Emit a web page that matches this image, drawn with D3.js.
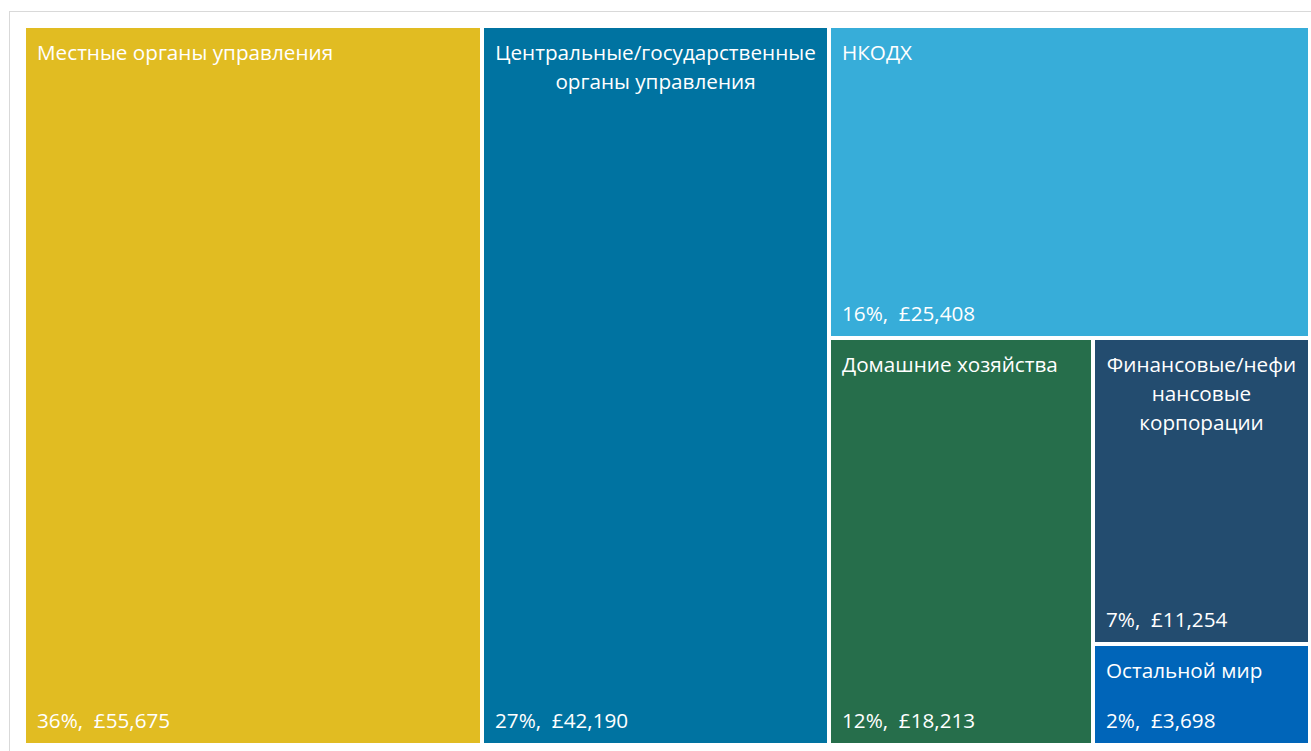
<!DOCTYPE html>
<html>
<head>
<meta charset="utf-8">
<script src="https://cdn.jsdelivr.net/npm/d3@7"></script>
<style>
	body { margin: 0; background: #fff; }
	text { font-family: "Open Sans", sans-serif; fill: #fff; white-space: pre; }
</style>
</head>
<body>
<div id="chart"></div>
<script>

//----------------------------
// Data
//----------------------------

var sectors = ["Местные органы управления", "Центральные/государственные органы управления", "НКОДХ",
	"Домашние хозяйства", "Финансовые/нефинансовые корпорации", "Остальной мир"];
// how the labels wrap in the original
var sectorLines = [["Местные органы управления"], ["Центральные/государственные", "органы управления"], ["НКОДХ"],
	["Домашние хозяйства"], ["Финансовые/нефи", "нансовые", "корпорации"], ["Остальной мир"]];
var amounts = [55675, 42190, 25408, 18213, 11254, 3698];
var colours = ["#E1BC22", "#0073A1", "#37ADD9", "#266E4B", "#234C6F", "#0065B9"];

//----------------------------
// Layout
//----------------------------

var totwidth = 1311,
	totheight = 751,
	padLeft = 26,
	padTop = 28,
	padRight = 1308,
	padBottom = 743,
	fontSize = 20.7,
	lineHeight = 29;

var svg = d3.select("#chart").append("svg")
	.attr("width", totwidth)
	.attr("height", totheight);

// outer chart frame (runs off the page on the right and bottom)
svg.append("rect")
	.attr("x", 9.5)
	.attr("y", 11.5)
	.attr("width", 1320)
	.attr("height", 760)
	.attr("fill", "white")
	.attr("stroke", "#d9d9d9");

var total = d3.sum(amounts);
var rows = sectors.map(function(s, i) {
	return {name: s, lines: sectorLines[i], value: amounts[i], colour: colours[i]};
});

// Excel-style tiling: each item in turn cuts a strip across the
// longer side of what is left
function tileLongSide(parent, x0, y0, x1, y1) {
	var remaining = parent.value;
	parent.children.forEach(function(node) {
		var f = remaining ? node.value / remaining : 0;
		if (x1 - x0 >= y1 - y0) {
			node.x0 = x0; node.y0 = y0; node.y1 = y1;
			node.x1 = x0 = x0 + (x1 - x0) * f;
		} else {
			node.x0 = x0; node.x1 = x1; node.y0 = y0;
			node.y1 = y0 = y0 + (y1 - y0) * f;
		}
		remaining -= node.value;
	});
}

var root = d3.hierarchy({children: rows})
	.sum(function(d) { return d.value || 0; });

var areaW = padRight - padLeft,
	areaH = padBottom - padTop;

d3.treemap()
	.tile(tileLongSide)
	.size([areaW, areaH])
	.paddingInner(4)
	.round(true)(root);

var cell = svg.append("g")
	.attr("transform", "translate(" + padLeft + "," + padTop + ")")
	.selectAll("g")
	.data(root.leaves())
	.enter().append("g")
		.attr("transform", function(d) { return "translate(" + d.x0 + "," + d.y0 + ")"; });

cell.append("rect")
	.attr("width", function(d) { return d.x1 - d.x0; })
	.attr("height", function(d) { return d.y1 - d.y0; })
	.attr("fill", function(d) { return d.data.colour; });

// name labels: single line left aligned, wrapped ones centred
cell.each(function(d) {
	var g = d3.select(this),
		w = d.x1 - d.x0,
		multi = d.data.lines.length > 1;
	g.append("text")
		.attr("font-size", fontSize)
		.attr("text-anchor", multi ? "middle" : "start")
		.selectAll("tspan")
		.data(d.data.lines)
		.enter().append("tspan")
			.attr("x", multi ? w / 2 : 11)
			.attr("y", function(l, i) { return 32 + i * lineHeight; })
			.text(function(l) { return l; });
});

// value labels at bottom left
cell.append("text")
	.attr("font-size", fontSize)
	.attr("x", 11)
	.attr("y", function(d) { return d.y1 - d.y0 - 15; })
	.text(function(d) {
		return Math.round(d.value / total * 100) + "%,  £" + d3.format(",")(d.value);
	});

</script>
</body>
</html>
